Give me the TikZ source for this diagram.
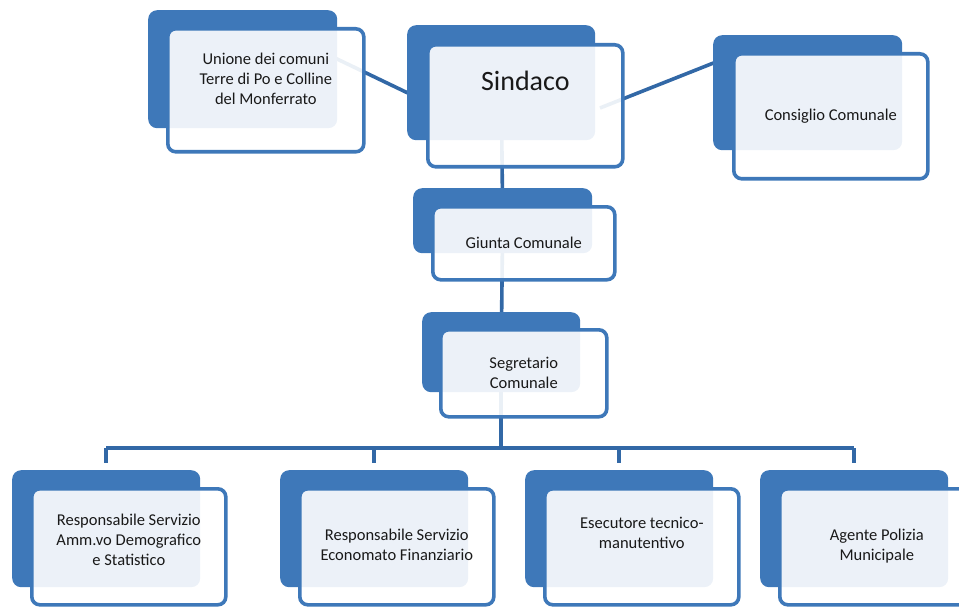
\documentclass[tikz,border=0pt]{standalone}
\usepackage{fontspec}
\setmainfont{Carlito}
\usetikzlibrary{positioning}
\usetikzlibrary{backgrounds}
\definecolor{tabblue}{RGB}{62,120,185}
\definecolor{linkblue}{RGB}{50,104,166}
\tikzset{tab/.style={fill=tabblue, rounded corners=9pt, inner sep=0pt, anchor=north west}}
\tikzset{card/.style={draw=tabblue, line width=3.6pt, fill=white, fill opacity=0.9, text opacity=1, rounded corners=8pt, align=center, inner sep=2pt, text=black!90, font=\fontsize{16.5}{20}\selectfont}}
\tikzset{link/.style={draw=linkblue, line width=3.6pt}}

\begin{document}
\begin{tikzpicture}[x=1pt, y=-1pt]
  \useasboundingbox (0,0) rectangle (959,607);

  % top row
  \node[tab, minimum width=189pt, minimum height=118pt] (uniT) at (148,10) {};
  \node[card, minimum width=196pt, minimum height=123pt, text depth=24pt, below right=17pt and 18pt of uniT.north west] (uni) {Unione dei comuni\\Terre di Po e Colline\\del Monferrato};

  \node[tab, minimum width=188pt, minimum height=115pt] (sinT) at (407,25) {};
  \node[card, minimum width=195pt, minimum height=122pt, font=\fontsize{28}{32}\selectfont, below right=18pt and 19pt of sinT.north west] (sin) {\raisebox{15pt}[0pt][0pt]{Sindaco}};

  \node[tab, minimum width=189pt, minimum height=115pt] (conT) at (713,35) {};
  \node[card, minimum width=194pt, minimum height=125pt, below right=17pt and 19pt of conT.north west] (con) {Consiglio Comunale};

  % middle column
  \node[tab, minimum width=179pt, minimum height=65pt] (giuT) at (413,188) {};
  \node[card, minimum width=182pt, minimum height=73pt, below right=17pt and 18pt of giuT.north west] (giu) {Giunta Comunale};

  \node[tab, minimum width=158pt, minimum height=80pt] (segT) at (422,312) {};
  \node[card, minimum width=166pt, minimum height=87pt, below right=16pt and 17pt of segT.north west] (seg) {Segretario\\Comunale};

  % bottom row
  \foreach \nm/\x/\d/\t in {r1/12/14pt/{Responsabile Servizio\\Amm.vo Demografico\\e Statistico}, r2/280/5pt/{Responsabile Servizio\\Economato Finanziario}, r3/525/28pt/{Esecutore tecnico-\\manutentivo}, r4/760/5pt/{Agente Polizia\\Municipale}}{
    \node[tab, minimum width=188pt, minimum height=117pt] (\nm T) at (\x,470) {};
    \node[card, minimum width=194pt, minimum height=116pt, text depth=\d, below right=17pt and 18pt of \nm T.north west] (\nm) {\t};
  }

  % connectors
  \coordinate (bus) at (segT.center |- 0,448);
  \coordinate (uniLink) at (335,58);
  \coordinate (sinLinkW) at (412,95);
  \coordinate (sinLinkE) at (600,108);
  \coordinate (conLink) at (716,62);
  \begin{scope}[on background layer]
    \draw[link] (uniLink) -- (sinLinkW);
    \draw[link] (sinLinkE) -- (conLink);
    \draw[link] (sinT.center) -- (giuT.center);
    \draw[link] (giuT.center) -- (segT.center);
    \draw[link] (segT.center) -- (bus);
    \draw[link] (r1T.north |- bus) -- (r4T.north |- bus);
    \foreach \nm in {r1,r2,r3,r4}
      \draw[link] (\nm T.north |- bus) -- ([yshift=7pt]\nm T.north);
  \end{scope}
\end{tikzpicture}
\end{document}
